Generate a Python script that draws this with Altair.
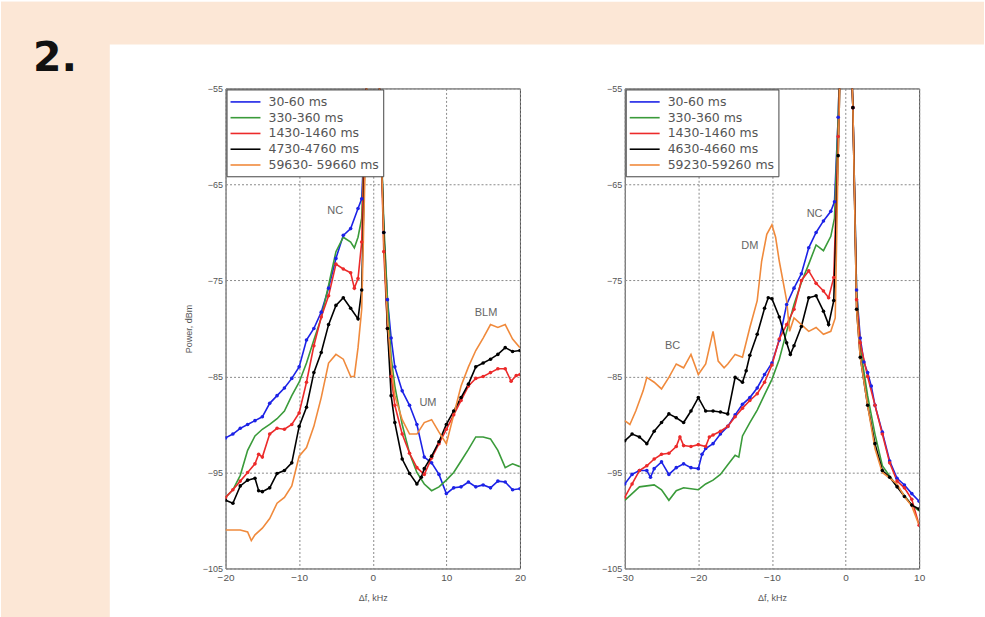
import altair as alt
import pandas as pd

FONT = "Liberation Sans"
PEACH = "#FCE7D6"
TXT = "#555555"
COLORS = ["#1c22e6", "#3a9b3a", "#ec2a2a", "#000000", "#f08a3c"]

LEFT_LABELS = ["30-60 ms", "330-360 ms", "1430-1460 ms", "4730-4760 ms", "59630- 59660 ms"]
RIGHT_LABELS = ["30-60 ms", "330-360 ms", "1430-1460 ms", "4630-4660 ms", "59230-59260 ms"]

# ---------------- left panel data ----------------
L_BLUE_F = [-20, -19, -18, -17, -16, -15, -14, -13, -12, -11, -10, -9, -8, -7, -6, -5, -4, -3, -2, -1.5,
            -1, -0.5, 0, 0.5, 1, 1.5, 2, 2.5, 3, 4, 5, 6, 7, 8, 9, 10, 11, 12, 13, 14, 15, 16, 17, 18, 19, 20]
L_BLUE_P = [-91.4, -91.0, -90.4, -90.0, -89.6, -89.2, -87.8, -87.0, -86.2, -85.2, -84.0, -81.2, -80.0, -78.3,
            -75.8, -72.7, -70.3, -69.6, -67.5, -66.5,
            -58, -45, -42, -45, -57, -70, -77, -81, -84, -86.5, -88.0, -90.0, -93.4, -94.0, -95.2, -97.2,
            -96.6, -96.5, -96.0, -96.5, -96.3, -96.6, -95.9, -96.0, -96.8, -96.7]

L_GREEN_F = [-20, -19, -18, -17, -16, -15, -14, -13, -12, -11, -10, -9, -8, -7, -6, -5, -4, -3, -2.5, -2, -1.5,
             -1, -0.5, 0, 0.5, 1, 1.5, 2, 2.5, 3, 4, 5, 6, 7, 8, 9, 10, 11, 12, 13, 14, 15, 16, 17, 18, 19, 20]
L_GREEN_P = [-97.6, -96.8, -95.3, -92.7, -91.2, -90.5, -90.0, -89.4, -88.6, -87.0, -85.6, -83.6, -81.2, -78.9,
             -75.5, -72.0, -70.5, -71.0, -71.6, -70.5, -68.5,
             -57, -45, -42, -45, -57, -69, -77, -83, -86, -90, -93, -95, -96.2, -96.9, -96.5, -95.8,
             -95.0, -93.8, -92.6, -91.3, -91.3, -91.5, -92.7, -94.5, -94.1, -94.4]

L_RED_F = [-20, -19, -18, -17, -16, -15.5, -15, -14, -13, -12, -11, -10, -9, -8, -7, -6, -5, -4, -3, -2.5, -2, -1.5,
           -1, -0.5, 0, 0.5, 1, 1.5, 2, 2.5, 3, 4, 5, 6, 7, 8, 9, 10, 11, 12, 13, 14, 15, 16, 17, 18, 18.8, 19.5, 20]
L_RED_P = [-97.6, -96.8, -95.9, -95.0, -94.1, -93.1, -93.4, -91.0, -90.4, -90.5, -90.0, -88.8, -85.6, -81.8,
           -78.8, -76.6, -73.3, -73.8, -74.2, -75.8, -74.8, -71.0,
           -57, -45, -42, -45, -57, -72, -80, -85, -88, -91, -93, -94.5, -95.2, -93.5, -92.0, -90.5,
           -89.0, -87.5, -86.0, -85.2, -85.0, -84.6, -84.2, -84.2, -85.5, -84.9, -84.8]

L_BLACK_F = [-20, -19, -18, -17, -16, -15.5, -15, -14, -13, -12, -11, -10, -9, -8, -7, -6, -5, -4, -3, -2, -1.5,
             -1, -0.5, 0, 0.5, 1, 1.5, 2, 2.5, 3, 4, 5, 6, 6.6, 7, 8, 9, 10, 11, 12, 13, 14, 15, 16, 17, 18, 19, 20]
L_BLACK_P = [-97.9, -98.2, -96.4, -95.8, -95.6, -96.9, -97.0, -96.6, -95.1, -94.8, -94.0, -90.2, -88.2, -84.6,
             -82.5, -79.6, -77.6, -76.8, -77.9, -79.0, -76.0,
             -60, -45, -42, -45, -57, -70, -80, -87, -89.8, -93.6, -95.1, -96.2, -95.5, -94.6, -93.3, -91.8,
             -90.0, -88.6, -87.2, -85.8, -84.0, -83.6, -83.2, -82.7, -82.0, -82.4, -82.3]

L_ORANGE_F = [-20, -19, -18, -17, -16.5, -16, -15, -14, -13, -12, -11, -10, -9, -8, -7, -6, -5, -4, -3, -2.5, -2,
              -1.5, -1, -0.5, 0, 0.5, 1, 1.5, 2, 2.5, 3, 4, 5, 6, 7, 8, 9, 10, 11, 12, 13, 14, 15, 16, 17, 18,
              19, 20]
L_ORANGE_P = [-101.0, -101.0, -101.0, -101.2, -102.1, -101.5, -100.8, -99.8, -98.2, -97.6, -96.4, -93.3, -92.4,
              -90.2, -87.2, -83.6, -82.7, -83.2, -85.0, -85.0, -82.0,
              -78, -62, -45, -42, -45, -57, -71, -79, -84, -87, -89.5, -91, -91, -89.8, -89.5, -90.8, -92,
              -89, -86, -84.0, -82.3, -81.0, -79.6, -79.9, -79.6, -81.1, -82.0]

# ---------------- right panel data ----------------
R_BLUE_F = [-30, -29, -28, -27, -26.5, -26, -25, -24, -23, -22, -21, -20, -19.5, -19, -18, -17, -16, -15, -14,
            -13, -12, -11, -10, -9, -8, -7, -6, -5, -4, -3, -2, -1.5,
            -1, -0.5, 0, 0.5, 1, 1.5, 2, 2.5, 3, 3.5, 4, 5, 6, 7, 8, 9, 10]
R_BLUE_P = [-96.2, -95.2, -94.8, -94.8, -95.5, -94.6, -93.9, -95.2, -94.5, -94.1, -94.5, -94.6, -93.1, -92.5,
            -92.0, -91.0, -90.2, -89.0, -87.9, -87.2, -86.2, -84.8, -83.6, -81.2, -77.5, -75.8, -74.3, -71.6,
            -70.0, -68.8, -67.8, -66.8,
            -58, -45, -42, -45, -57, -76, -81, -83.5, -84.6, -86, -88, -90.8, -93.8, -95.6, -96.3, -97.2, -98.0]

R_GREEN_F = [-30, -29, -28, -27, -26, -25, -24, -23, -22, -21, -20, -19, -18, -17, -16, -15, -14.5, -14, -13,
             -12, -11, -10, -9, -8, -7, -6, -5, -4, -3, -2, -1.5,
             -1, -0.5, 0, 0.5, 1, 1.5, 2, 3, 4, 5, 6, 7, 8, 9, 10]
R_GREEN_P = [-97.9, -97.2, -96.5, -96.4, -96.3, -96.8, -97.9, -96.9, -96.6, -96.7, -96.8, -96.2, -95.8, -95.2,
             -94.2, -93.2, -93.4, -91.2, -89.8, -88.5, -86.9, -85.3, -83.2, -80.3, -77.5, -75.2, -73.3, -71.3,
             -71.9, -70.4, -68.5,
             -58, -45, -42, -45, -57, -76, -82, -87, -91, -94.3, -95.4, -96.4, -97.4, -98.4, -99.0]

R_RED_F = [-30, -29, -28, -27, -26, -25, -24, -23, -22.5, -22, -21, -20, -19, -18.5, -18, -17, -16, -15, -14,
           -13, -12, -11, -10, -9, -8, -7, -6, -5, -4, -3, -2.3, -1.6,
           -1, -0.5, 0, 0.5, 1, 1.5, 2, 3, 4, 5, 6, 7, 8, 9, 10]
R_RED_P = [-97.6, -96.2, -94.8, -94.3, -93.6, -93.1, -93.0, -92.3, -91.3, -92.2, -92.3, -92.1, -92.3, -91.3,
           -91.1, -90.7, -90.2, -89.2, -88.3, -87.5, -86.8, -85.6, -83.8, -81.1, -79.6, -78.0, -75.0, -74.0,
           -75.3, -76.1, -76.8, -74.7,
           -60, -45, -42, -45, -57, -77, -81.5, -85, -88, -91, -94, -95.9, -96.6, -97.8, -100.5]

R_BLACK_F = [-30, -29, -28, -27, -26, -25, -24, -23, -22, -21, -20, -19, -18, -17, -16, -15, -14, -13.5, -13,
             -12, -11, -10.5, -10, -9, -8, -7.5, -7, -6, -5, -4, -3, -2.3, -1.6,
             -1, -0.5, 0, 0.5, 1, 1.5, 2, 3, 4, 5, 6, 7, 8, 9, 10]
R_BLACK_P = [-91.7, -91.0, -91.3, -92.0, -90.7, -89.8, -88.9, -89.3, -89.8, -88.6, -87.2, -88.6, -88.6, -88.7,
             -88.9, -85.1, -85.6, -84.4, -82.8, -80.6, -77.9, -76.8, -76.9, -78.8, -81.5, -82.7, -81.8, -79.8,
             -76.8, -76.6, -78.2, -79.6, -77.1,
             -62, -45, -42, -45, -57, -78, -83, -88, -92, -94.8, -95.5, -96.5, -97.5, -98.4, -98.8]

R_ORANGE_F = [-30, -29.3, -28.5, -27.5, -27, -26, -25, -24, -23, -22, -21, -20, -19, -18, -17.3, -16.5, -16, -15,
              -14, -13, -12, -11.4, -10.7, -10, -9.5, -9, -8, -7.6, -7, -6, -5, -4, -3, -2, -1.4,
              -1, -0.5, 0, 0.5, 1, 1.5, 2, 3, 4, 5, 6, 7, 8, 9, 10]
R_ORANGE_P = [-89.6, -90.0, -88.6, -86.5, -85.1, -85.6, -86.3, -85.1, -83.7, -84.1, -82.7, -84.8, -83.7, -80.3,
              -83.4, -84.1, -83.7, -82.7, -83.0, -79.9, -77.1, -73.0, -70.2, -69.2, -70.5, -73.0, -77.1, -80.3,
              -78.9, -79.6, -80.3, -79.9, -80.6, -80.3, -78.9,
              -62, -45, -42, -45, -57, -78, -83, -88, -92.5, -95, -95.6, -96.2, -97.5, -98.5, -100.5]

# annotations
L_NOTE_TEXT = ["NC", "UM", "BLM"]
L_NOTE_F = [-5.1, 7.5, 15.4]
L_NOTE_P = [-67.8, -87.8, -78.4]
R_NOTE_TEXT = ["BC", "DM", "NC"]
R_NOTE_F = [-23.5, -13.0, -4.2]
R_NOTE_P = [-81.8, -71.4, -68.1]

Y_TICKS = [-105, -95, -85, -75, -65, -55]


def make_df(labels, series):
    rows = []
    for k, (lab, (fr, pw)) in enumerate(zip(labels, series)):
        for f, p in zip(fr, pw):
            rows.append({"f": f, "p": p, "s": lab, "k": k})
    return pd.DataFrame(rows)


def panel(df, labels, notes, xdom, xticks, ytitle, extra_layers=()):
    xs = alt.Scale(domain=xdom, nice=False, zero=False)
    ys = alt.Scale(domain=[-105, -55], nice=False, zero=False)
    xax = alt.Axis(values=xticks, title="Δf, kHz", grid=True, gridDash=[2, 2], gridColor="#8a8a8a",
                   ticks=False, domain=False, labelFontSize=10, labelColor=TXT, labelFont=FONT,
                   titleFontSize=9, titleColor=TXT, titleFont=FONT, titleFontWeight="normal",
                   labelPadding=4, titlePadding=11, labelFlush=False)
    yax = alt.Axis(values=Y_TICKS, title=ytitle, grid=True, gridDash=[2, 2], gridColor="#8a8a8a",
                   ticks=False, domain=False, labelFontSize=9, labelColor=TXT, labelFont=FONT,
                   titleFontSize=9, titleColor=TXT, titleFont=FONT, titleFontWeight="normal",
                   labelPadding=3, titlePadding=9, labelFlush=False)
    x = alt.X("f:Q", scale=xs, axis=xax)
    y = alt.Y("p:Q", scale=ys, axis=yax)
    legend = alt.Legend(title=None, orient="top-left", offset=1, fillColor="white", strokeColor="#444",
                        padding=4, symbolType="M-2,0H2", symbolSize=225, symbolStrokeWidth=1.6,
                        symbolOffset=6.5, labelOffset=14.5, labelFontSize=12.5, labelColor=TXT,
                        labelFont="DejaVu Sans", rowPadding=0.8, cornerRadius=0)
    color = alt.Color("s:N", scale=alt.Scale(domain=labels, range=COLORS), legend=legend)
    lines = alt.Chart(df).mark_line(clip=True, strokeWidth=1.6).encode(x=x, y=y, color=color)
    dots = (alt.Chart(df).transform_filter("datum.k == 0 || datum.k == 2 || datum.k == 3")
            .mark_circle(size=13, clip=True, opacity=1)
            .encode(x=x, y=y, fill=alt.Fill("s:N", scale=alt.Scale(domain=labels, range=COLORS), legend=None)))
    texts = alt.Chart(notes).mark_text(fontSize=11, color="#666666", font=FONT).encode(
        x=alt.X("f:Q", scale=xs), y=alt.Y("p:Q", scale=ys), text="t:N")
    return alt.layer(*extra_layers, lines, dots, texts).properties(width=295, height=481)


left_df = make_df(LEFT_LABELS, [(L_BLUE_F, L_BLUE_P), (L_GREEN_F, L_GREEN_P), (L_RED_F, L_RED_P),
                                (L_BLACK_F, L_BLACK_P), (L_ORANGE_F, L_ORANGE_P)])
right_df = make_df(RIGHT_LABELS, [(R_BLUE_F, R_BLUE_P), (R_GREEN_F, R_GREEN_P), (R_RED_F, R_RED_P),
                                  (R_BLACK_F, R_BLACK_P), (R_ORANGE_F, R_ORANGE_P)])
left_notes = pd.DataFrame({"f": L_NOTE_F, "p": L_NOTE_P, "t": L_NOTE_TEXT})
right_notes = pd.DataFrame({"f": R_NOTE_F, "p": R_NOTE_P, "t": R_NOTE_TEXT})

# page decoration (peach frame of the slide and its "2." label), drawn outside the plot area
deco = pd.DataFrame({"t": ["2."]})
peach_left = alt.Chart(deco).mark_rect(fill=PEACH, clip=False).encode(
    x=alt.value(-225), x2=alt.value(-116), y=alt.value(-87), y2=alt.value(530))
peach_top = alt.Chart(deco).mark_rect(fill=PEACH, clip=False).encode(
    x=alt.value(-225), x2=alt.value(760), y=alt.value(-87), y2=alt.value(-44))
label2 = alt.Chart(deco).mark_text(font="DejaVu Sans", fontWeight="bold", fontSize=41, color="#111111",
                                   align="left", baseline="alphabetic", clip=False).encode(
    x=alt.value(-193), y=alt.value(-17), text="t:N")

left = panel(left_df, LEFT_LABELS, left_notes, [-20, 20], [-20, -10, 0, 10, 20], "Power, dBm",
             extra_layers=(peach_left, peach_top, label2))
right = panel(right_df, RIGHT_LABELS, right_notes, [-30, 10], [-30, -20, -10, 0, 10], None)

chart = (alt.hconcat(left, right, spacing=105, bounds="flush")
         .resolve_scale(color="independent", fill="independent")
         .resolve_legend(color="independent")
         .properties(padding=0, background="white")
         .configure_view(stroke="#4a4a4a", strokeWidth=1))

chart.save("out.html", embed_options={"renderer": "svg", "actions": False})
